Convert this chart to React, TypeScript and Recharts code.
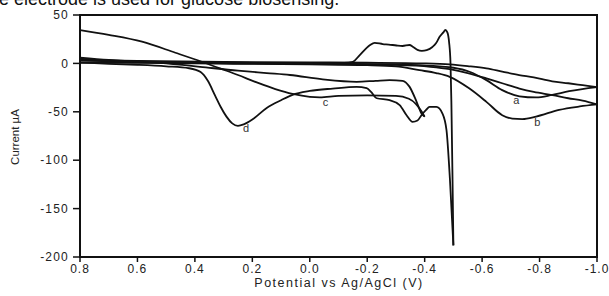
import React from 'react';
import {
  LineChart,
  Line,
  XAxis,
  YAxis,
  ReferenceArea,
  ReferenceDot,
  Label,
} from 'recharts';

// potential (V) vs current (uA), one array per sweep branch
const aCathodic: number[][] = [
  [0.8, 5], [0.7, 3], [0.6, 1.8], [0.5, 1], [0.4, 0.5], [0.2, 0], [0, -0.3],
  [-0.2, -0.8], [-0.35, -1.5], [-0.45, -3], [-0.5, -4.5], [-0.556, -8.6],
  [-0.615, -17.3], [-0.67, -27.6], [-0.73, -34], [-0.788, -35.2],
  [-0.844, -32.5], [-0.903, -28.7], [-1.0, -24.5],
];
const aAnodic: number[][] = [
  [-1.0, -24.5], [-0.95, -22.5], [-0.9, -20.5], [-0.844, -18.5], [-0.78, -14.5],
  [-0.729, -12], [-0.67, -8.5], [-0.615, -5.2], [-0.55, -2.8], [-0.487, -1],
  [-0.4, 0], [-0.2, 0.7], [0, 1], [0.3, 1.5], [0.6, 2.5], [0.8, 3.5],
];
const bCathodic: number[][] = [
  [0.8, 3.5], [0.6, 1], [0.4, 0], [0.2, -0.5], [0, -1], [-0.2, -1.8], [-0.3, -3],
  [-0.382, -7], [-0.44, -10], [-0.487, -13.9], [-0.556, -26], [-0.615, -39.7],
  [-0.67, -53.5], [-0.705, -57], [-0.74, -57.5], [-0.788, -55], [-0.868, -48],
  [-0.94, -44.5], [-1.0, -42.4],
];
const bAnodic: number[][] = [
  [-1.0, -42.4], [-0.95, -38.5], [-0.9, -36], [-0.845, -32.8], [-0.78, -29.5],
  [-0.73, -26], [-0.67, -20.5], [-0.615, -15.5], [-0.55, -10], [-0.487, -6],
  [-0.42, -3.5], [-0.3, -1.5], [-0.1, -0.5], [0.2, 0], [0.5, 0.5], [0.8, 0.5],
];
const cCathodic: number[][] = [
  [0.8, 6], [0.7, 3.5], [0.6, 2], [0.5, 0], [0.382, -3.5], [0.25, -7.5],
  [0.15, -10], [0.069, -12], [-0.045, -16.5], [-0.163, -19], [-0.23, -18],
  [-0.278, -17.3], [-0.323, -18], [-0.347, -24], [-0.372, -39.7],
  [-0.389, -51.8], [-0.4, -55],
];
const cAnodic: number[][] = [
  [-0.4, -55], [-0.39, -50], [-0.37, -42], [-0.345, -36.5], [-0.3, -33.5],
  [-0.2, -33], [-0.1, -33.5], [-0.035, -35], [0.0, -34.5], [0.06, -31.5],
  [0.12, -26.5], [0.19, -19], [0.25, -12], [0.3, -6.5], [0.376, 1.7],
  [0.468, 11], [0.584, 22.4], [0.7, 29.5], [0.8, 34.5],
];
const dCathodic: number[][] = [
  [0.8, 1], [0.7, -0.5], [0.6, -1.5], [0.5, -3], [0.42, -5], [0.38, -9],
  [0.355, -18], [0.33, -33], [0.31, -45], [0.29, -55], [0.27, -62],
  [0.25, -64.5], [0.23, -63], [0.2, -58], [0.15, -46], [0.1, -38],
  [0.06, -32.5], [0.0, -28.5], [-0.08, -26], [-0.163, -24.2], [-0.198, -25.5],
  [-0.215, -30], [-0.233, -36], [-0.278, -38], [-0.313, -43], [-0.337, -53.5],
  [-0.358, -60.4], [-0.375, -59], [-0.39, -53], [-0.405, -48], [-0.417, -45],
  [-0.441, -45], [-0.462, -51.8], [-0.476, -69], [-0.488, -120], [-0.5, -188],
];
const dAnodic: number[][] = [
  [-0.5, -188], [-0.497, -120], [-0.493, -40], [-0.49, 0], [-0.485, 22],
  [-0.479, 32], [-0.472, 34.5], [-0.465, 32], [-0.452, 27.5], [-0.44, 21],
  [-0.427, 17], [-0.407, 13.8], [-0.39, 13], [-0.375, 14], [-0.36, 17],
  [-0.347, 19], [-0.323, 18], [-0.302, 18.5], [-0.275, 19.5], [-0.254, 20],
  [-0.226, 21.3], [-0.21, 19], [-0.198, 16], [-0.174, 8.6], [-0.15, 1.7],
  [-0.12, 0.5], [0, 0.3], [0.2, 0.5], [0.4, 1], [0.6, 2], [0.8, 3],
];

const branches = [aCathodic, aAnodic, bCathodic, bAnodic, cCathodic, cAnodic, dCathodic, dAnodic];

const curveLabels = [
  { name: 'a', v: -0.719, i: -38 },
  { name: 'b', v: -0.792, i: -61 },
  { name: 'c', v: -0.055, i: -39.5 },
  { name: 'd', v: 0.222, i: -67 },
];

const xTicks = [0.8, 0.6, 0.4, 0.2, 0, -0.2, -0.4, -0.6, -0.8, -1.0];
const yTicks = [50, 0, -50, -100, -150, -200];

const font = '"Liberation Sans", Arial, sans-serif';

export default function App() {
  return (
    <div
      style={{
        position: 'absolute',
        left: 0,
        top: 0,
        width: 609,
        height: 296,
        overflow: 'hidden',
        background: '#fff',
        fontFamily: font,
      }}
    >
      <div
        style={{
          position: 'absolute',
          left: -1,
          top: -10,
          fontSize: 18,
          lineHeight: '18px',
          color: '#111',
          whiteSpace: 'nowrap',
        }}
      >
        e electrode is used for glucose biosensing.
      </div>
      <LineChart
        width={609}
        height={296}
        margin={{ top: 15, right: 12, left: 0, bottom: 0 }}
        style={{ position: 'absolute', left: 0, top: 0 }}
      >
        <XAxis
          type="number"
          dataKey="v"
          domain={[-1, 0.8]}
          reversed
          ticks={xTicks}
          tickFormatter={(v: number) => v.toFixed(1)}
          height={39}
          tickSize={5}
          tickMargin={2}
          axisLine={{ stroke: '#111', strokeWidth: 2 }}
          tickLine={{ stroke: '#111', strokeWidth: 1.5 }}
          tick={{ fill: '#222', fontSize: 12, fontFamily: font, letterSpacing: 1 }}
          allowDataOverflow
        >
          <Label
            content={() => (
              <text
                x={339}
                y={287}
                textAnchor="middle"
                fill="#222"
                fontSize={12.5}
                fontFamily={font}
                letterSpacing={1.5}
              >
                Potential vs Ag/AgCl  (V)
              </text>
            )}
          />
        </XAxis>
        <YAxis
          type="number"
          domain={[-200, 50]}
          ticks={yTicks}
          width={80}
          tickSize={7}
          tickMargin={4}
          axisLine={{ stroke: '#111', strokeWidth: 2 }}
          tickLine={{ stroke: '#111', strokeWidth: 1.5 }}
          tick={{ fill: '#222', fontSize: 12, fontFamily: font, letterSpacing: 1.2 }}
          allowDataOverflow
        >
          <Label
            content={() => (
              <text
                x={19}
                y={137}
                transform="rotate(-90 19 137)"
                textAnchor="middle"
                fill="#222"
                fontSize={11.5}
                fontFamily={font}
              >
                Current µA
              </text>
            )}
          />
        </YAxis>
        {branches.map((b, idx) => (
          <Line
            key={idx}
            data={b.map(([v, i]) => ({ v, i }))}
            dataKey="i"
            type="monotone"
            stroke="#111"
            strokeWidth={1.8}
            dot={false}
            activeDot={false}
            isAnimationActive={false}
          />
        ))}
        <ReferenceArea
          x1={-1}
          x2={0.8}
          y1={-200}
          y2={50}
          fill="none"
          fillOpacity={0}
          stroke="#111"
          strokeWidth={2}
          ifOverflow="visible"
        />
        {curveLabels.map((l) => (
          <ReferenceDot
            key={l.name}
            x={l.v}
            y={l.i}
            r={1}
            fill="none"
            stroke="none"
            label={{ value: l.name, position: 'center', fontSize: 11, fill: '#333', fontFamily: font }}
          />
        ))}
      </LineChart>
    </div>
  );
}
